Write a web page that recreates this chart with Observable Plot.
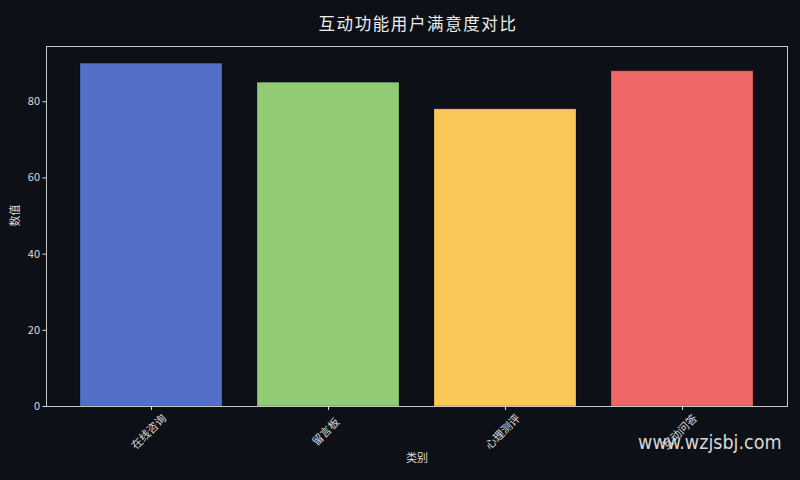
<!DOCTYPE html>
<html>
<head>
<meta charset="utf-8">
<script src="https://cdn.jsdelivr.net/npm/d3@7"></script>
<script src="https://cdn.jsdelivr.net/npm/@observablehq/plot@0.6"></script>
<style>
  html, body { margin: 0; padding: 0; background: #0d1017; }
  #chart { width: 800px; height: 480px; position: relative; }
  .title-text text { letter-spacing: 1.6px; }
  .wm-text text { font-stretch: condensed; }
</style>
</head>
<body>
<div id="chart"></div>
<script>
const categories = ["在线咨询", "留言板", "心理测评", "互动问答"];
const values = [90, 85, 78, 88];
const colors = ["#5470c6", "#91cc75", "#fac858", "#ee6666"];
const yTicks = [0, 20, 40, 60, 80];
const title = "互动功能用户满意度对比";
const xLabel = "类别";
const yLabel = "数值";
const watermark = "www.wzjsbj.com";

const data = categories.map((c, i) => ({category: c, value: values[i]}));
const axisColor = "#dcdcdc";
const font = "'Noto Sans CJK SC', 'DejaVu Sans', sans-serif";

const chart = Plot.plot({
  width: 800,
  height: 480,
  marginLeft: 46,
  marginRight: 13,
  marginTop: 46,
  marginBottom: 74,
  style: {background: "#0d1017", color: axisColor, fontFamily: font, fontSize: "11px"},
  x: {type: "band", domain: categories, paddingInner: 0.2, paddingOuter: 0.19, label: null},
  y: {domain: [0, 94.5], label: null},
  color: {domain: categories, range: colors},
  marks: [
    Plot.barY(data, {x: "category", y: "value", fill: "category", stroke: "#000", strokeOpacity: 0.25, strokeWidth: 1}),
    Plot.frame({stroke: "#c8c8c8", strokeWidth: 1}),
    Plot.axisY({ticks: yTicks, tickSize: 3.5, tickPadding: 3, fontSize: 11, label: null, color: axisColor}),
    Plot.axisX({tickSize: 4, tickFormat: () => "", label: null, color: "#e0e0e0"}),
    Plot.text(categories, {x: d => d, frameAnchor: "bottom", dy: 28, rotate: -45, fontSize: 11, fill: axisColor, textAnchor: "middle"}),
    Plot.text([xLabel], {frameAnchor: "bottom", dy: 55, fontSize: 11, fill: axisColor}),
    Plot.text([yLabel], {frameAnchor: "left", dx: -31, rotate: -90, fontSize: 11, fill: axisColor}),
    Plot.text([title], {frameAnchor: "top", dy: -28, dx: 1, fontSize: 16.5, fill: "#eeeeee", className: "title-text"}),
    Plot.text([watermark], {frameAnchor: "bottom-right", dx: -6, dy: 42, textAnchor: "end", fontSize: 19.5, fill: "#d8d8d8", fontFamily: "'DejaVu Sans Condensed', 'DejaVu Sans'", className: "wm-text"})
  ]
});
document.getElementById("chart").appendChild(chart);
</script>
</body>
</html>
